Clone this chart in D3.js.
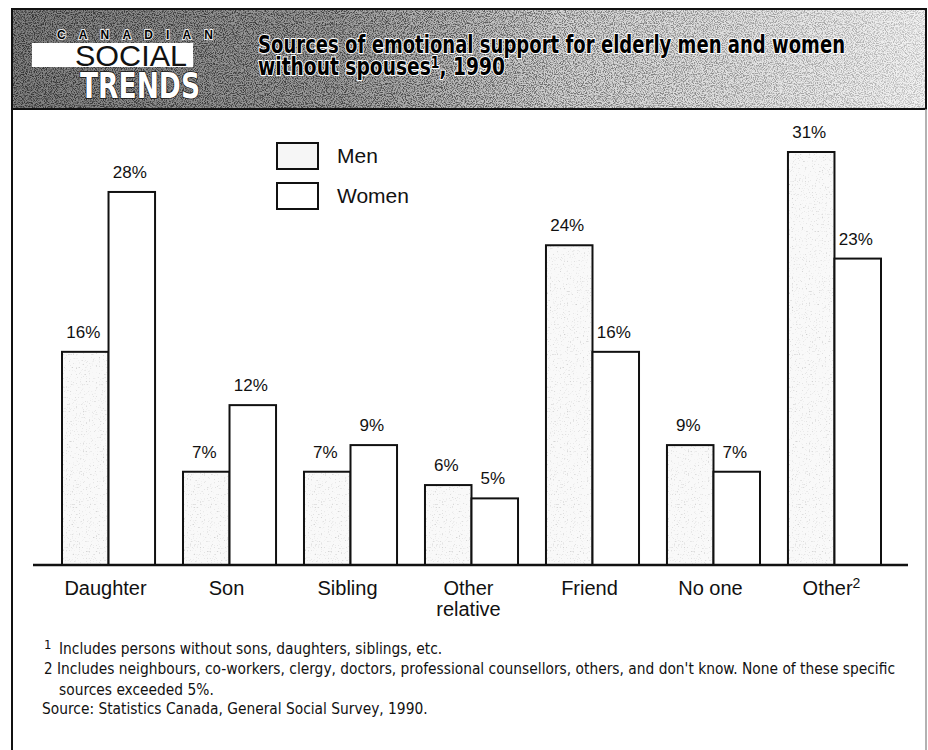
<!DOCTYPE html>
<html>
<head>
<meta charset="utf-8">
<script src="https://cdn.jsdelivr.net/npm/d3@7"></script>
<style>
  body { margin: 0; background: #fff; }
  svg { display: block; }
</style>
</head>
<body>
<div id="chart"></div>
<script>
// values
const categories = ["Daughter", "Son", "Sibling", "Other relative", "Friend", "No one", "Other"];
const series = ["Men", "Women"];
const menValues = [16, 7, 7, 6, 24, 9, 31];
const womenValues = [28, 12, 9, 5, 16, 7, 23];

const titleLines = ["Sources of emotional support for elderly men and women", "without spouses"];
const footnotes = [
  "Includes persons without sons, daughters, siblings, etc.",
  "Includes neighbours, co-workers, clergy, doctors, professional counsellors, others, and don't know. None of these specific",
  "sources exceeded 5%.",
  "Source: Statistics Canada, General Social Survey, 1990."
];

const width = 928;
const height = 750;
const narrow = "'Liberation Sans Narrow', 'DejaVu Sans Condensed', sans-serif";
const sans = "'Liberation Sans', Arial, sans-serif";

const svg = d3.select("#chart")
  .append("svg")
  .attr("width", width)
  .attr("height", height);

const defs = svg.append("defs");

const grad = defs.append("linearGradient").attr("id", "headGrad");
grad.append("stop").attr("offset", "0%").attr("stop-color", "#808080");
grad.append("stop").attr("offset", "35%").attr("stop-color", "#9c9c9c");
grad.append("stop").attr("offset", "60%").attr("stop-color", "#d2d2d2");
grad.append("stop").attr("offset", "100%").attr("stop-color", "#f2f2f2");

// fades the stipple out towards the right
const fade = defs.append("linearGradient").attr("id", "fadeGrad");
fade.append("stop").attr("offset", "0%").attr("stop-color", "#fff");
fade.append("stop").attr("offset", "45%").attr("stop-color", "#eee");
fade.append("stop").attr("offset", "100%").attr("stop-color", "#555");

// stipple texture for the header band
const grain = defs.append("filter").attr("id", "grain")
  .attr("x", 0).attr("y", 0).attr("width", "100%").attr("height", "100%");
grain.append("feTurbulence")
  .attr("type", "fractalNoise")
  .attr("baseFrequency", 0.9)
  .attr("numOctaves", 2)
  .attr("seed", 7);
grain.append("feColorMatrix")
  .attr("type", "matrix")
  .attr("values", "0 0 0 0 0  0 0 0 0 0  0 0 0 0 0  4 0 0 0 -1.7");

const menGrain = defs.append("filter").attr("id", "menGrain")
  .attr("x", 0).attr("y", 0).attr("width", "100%").attr("height", "100%");
menGrain.append("feTurbulence")
  .attr("type", "fractalNoise")
  .attr("baseFrequency", 0.7)
  .attr("numOctaves", 1)
  .attr("seed", 2);
menGrain.append("feColorMatrix")
  .attr("type", "matrix")
  .attr("values", "0 0 0 0 0  0 0 0 0 0  0 0 0 0 0  3 0 0 0 -1.8");

// ---- frame + header ----
const head = {x0: 12, x1: 926, y0: 9, y1: 109};

defs.append("mask").attr("id", "fadeMask")
  .append("rect")
  .attr("x", head.x0).attr("y", head.y0)
  .attr("width", head.x1 - head.x0).attr("height", head.y1 - head.y0)
  .attr("fill", "url(#fadeGrad)");

svg.append("rect")
  .attr("x", head.x0).attr("y", head.y0)
  .attr("width", head.x1 - head.x0).attr("height", head.y1 - head.y0)
  .attr("fill", "url(#headGrad)");

svg.append("rect")
  .attr("x", head.x0).attr("y", head.y0)
  .attr("width", head.x1 - head.x0).attr("height", head.y1 - head.y0)
  .attr("filter", "url(#grain)")
  .attr("mask", "url(#fadeMask)")
  .attr("opacity", 0.6);

svg.append("rect")
  .attr("x", head.x0).attr("y", head.y0)
  .attr("width", head.x1 - head.x0).attr("height", head.y1 - head.y0)
  .attr("fill", "none")
  .attr("stroke", "#111")
  .attr("stroke-width", 2);

svg.append("line")
  .attr("x1", head.x0).attr("x2", head.x0)
  .attr("y1", head.y1).attr("y2", height)
  .attr("stroke", "#111").attr("stroke-width", 2);

svg.append("line")
  .attr("x1", head.x1).attr("x2", head.x1)
  .attr("y1", head.y1).attr("y2", height)
  .attr("stroke", "#999").attr("stroke-width", 1.5);

// logo
svg.append("text")
  .attr("x", 57).attr("y", 39)
  .attr("textLength", 156).attr("lengthAdjust", "spacing")
  .style("font-family", sans).style("font-size", "12px").style("font-weight", "bold")
  .attr("fill", "#000")
  .attr("stroke", "#e8e8e8").attr("stroke-width", 2)
  .attr("paint-order", "stroke")
  .text("CANADIAN");

svg.append("rect")
  .attr("x", 32).attr("y", 43).attr("width", 161).attr("height", 24)
  .attr("fill", "#fff");

svg.append("text")
  .attr("x", 75).attr("y", 66)
  .attr("textLength", 112).attr("lengthAdjust", "spacingAndGlyphs")
  .style("font-family", sans).style("font-size", "30px")
  .attr("fill", "#111")
  .text("SOCIAL");

svg.append("text")
  .attr("x", 80).attr("y", 98)
  .attr("textLength", 120).attr("lengthAdjust", "spacingAndGlyphs")
  .style("font-family", narrow).style("font-size", "36px").style("font-weight", "bold")
  .attr("fill", "#fff").attr("stroke", "#111").attr("stroke-width", 1.5)
  .attr("paint-order", "stroke")
  .text("TRENDS");

// title
const title = svg.append("g")
  .style("font-family", narrow)
  .style("font-weight", "bold")
  .style("font-size", "24px")
  .attr("fill", "#000")
  .attr("stroke", "#fff")
  .attr("stroke-width", 2)
  .attr("paint-order", "stroke");

title.append("text")
  .attr("x", 258).attr("y", 53)
  .attr("textLength", 587).attr("lengthAdjust", "spacingAndGlyphs")
  .text(titleLines[0]);

const t2 = title.append("text")
  .attr("x", 258).attr("y", 75)
  .attr("textLength", 247).attr("lengthAdjust", "spacingAndGlyphs");
t2.append("tspan").text(titleLines[1]);
t2.append("tspan").attr("dy", -7).style("font-size", "16px").text("1");
t2.append("tspan").attr("dy", 7).text(", 1990");

// ---- chart ----
const x0 = d3.scaleBand()
  .domain(categories)
  .range([62, 881])
  .paddingInner(0.231)
  .paddingOuter(0);

const x1 = d3.scaleBand()
  .domain(series)
  .range([0, x0.bandwidth()]);

const y = d3.scaleLinear()
  .domain([0, 31])
  .range([565, 152]);

const rows = categories.map((c, i) => ({
  category: c,
  values: [
    {key: "Men", value: menValues[i]},
    {key: "Women", value: womenValues[i]}
  ]
}));

const groups = svg.append("g")
  .selectAll("g")
  .data(rows)
  .join("g")
  .attr("transform", d => `translate(${x0(d.category)},0)`);

const bars = groups.selectAll("g")
  .data(d => d.values)
  .join("g");

bars.append("rect")
  .attr("x", d => x1(d.key))
  .attr("y", d => y(d.value))
  .attr("width", x1.bandwidth())
  .attr("height", d => y(0) - y(d.value))
  .attr("fill", d => d.key === "Men" ? "#f9f9f9" : "#fff");

bars.filter(d => d.key === "Men")
  .append("rect")
  .attr("x", d => x1(d.key))
  .attr("y", d => y(d.value))
  .attr("width", x1.bandwidth())
  .attr("height", d => y(0) - y(d.value))
  .attr("filter", "url(#menGrain)")
  .attr("opacity", 0.25);

bars.append("rect")
  .attr("x", d => x1(d.key))
  .attr("y", d => y(d.value))
  .attr("width", x1.bandwidth())
  .attr("height", d => y(0) - y(d.value))
  .attr("fill", "none")
  .attr("stroke", "#111")
  .attr("stroke-width", 2);

bars.append("text")
  .attr("x", d => x1(d.key) + x1.bandwidth() / 2 - 2)
  .attr("y", d => y(d.value) - 14)
  .attr("text-anchor", "middle")
  .style("font-family", sans)
  .style("font-size", "17px")
  .attr("fill", "#111")
  .text(d => d.value + "%");

// baseline
svg.append("line")
  .attr("x1", 33).attr("x2", 908)
  .attr("y1", y(0)).attr("y2", y(0))
  .attr("stroke", "#111")
  .attr("stroke-width", 2.5);

// category labels
const xAxis = d3.axisBottom(x0).tickSize(0).tickPadding(0);
const xAxisG = svg.append("g")
  .attr("transform", `translate(-3, ${y(0)})`)
  .call(xAxis);
xAxisG.select(".domain").remove();
xAxisG.selectAll("text")
  .attr("y", 30)
  .attr("dy", null)
  .style("font-family", sans)
  .style("font-size", "20px")
  .attr("fill", "#111")
  .each(function(d) {
    const t = d3.select(this);
    if (d === "Other relative") {
      t.text(null);
      t.append("tspan").attr("x", 0).text("Other");
      t.append("tspan").attr("x", 0).attr("dy", 21).text("relative");
    } else if (d === "Other") {
      t.text(null);
      t.append("tspan").text("Other");
      t.append("tspan").attr("dy", -7).style("font-size", "14px").text("2");
    }
  });

// legend
const legend = svg.append("g")
  .selectAll("g")
  .data(series)
  .join("g")
  .attr("transform", (d, i) => `translate(277, ${143 + i * 40})`);

legend.append("rect")
  .attr("width", 41).attr("height", 26)
  .attr("fill", d => d === "Men" ? "#f6f6f6" : "#fff")
  .attr("stroke", "#111")
  .attr("stroke-width", 2);

legend.append("text")
  .attr("x", 60).attr("y", 20)
  .style("font-family", sans)
  .style("font-size", "21px")
  .attr("fill", "#111")
  .text(d => d);

// footnotes: squeeze all lines by the same factor so line 2 fits its width
const notes = svg.append("g")
  .style("font-family", narrow)
  .style("font-size", "15px")
  .attr("fill", "#111");

notes.append("text").attr("x", 44).attr("y", 649)
  .style("font-size", "13px").text("1");
notes.append("text").attr("x", 44).attr("y", 674).text("2");

const noteLines = [
  {x: 59, y: 654, text: footnotes[0]},
  {x: 57, y: 674, text: footnotes[1]},
  {x: 59, y: 695, text: footnotes[2]},
  {x: 42, y: 714, text: footnotes[3]}
];

const noteText = notes.selectAll("text.note")
  .data(noteLines)
  .join("text")
  .attr("class", "note")
  .attr("x", d => d.x)
  .attr("y", d => d.y)
  .text(d => d.text);

const squeeze = 838 / noteText.filter((d, i) => i === 1).node().getComputedTextLength();
noteText.each(function() {
  const len = this.getComputedTextLength();
  d3.select(this)
    .attr("textLength", len * squeeze)
    .attr("lengthAdjust", "spacingAndGlyphs");
});
</script>
</body>
</html>
